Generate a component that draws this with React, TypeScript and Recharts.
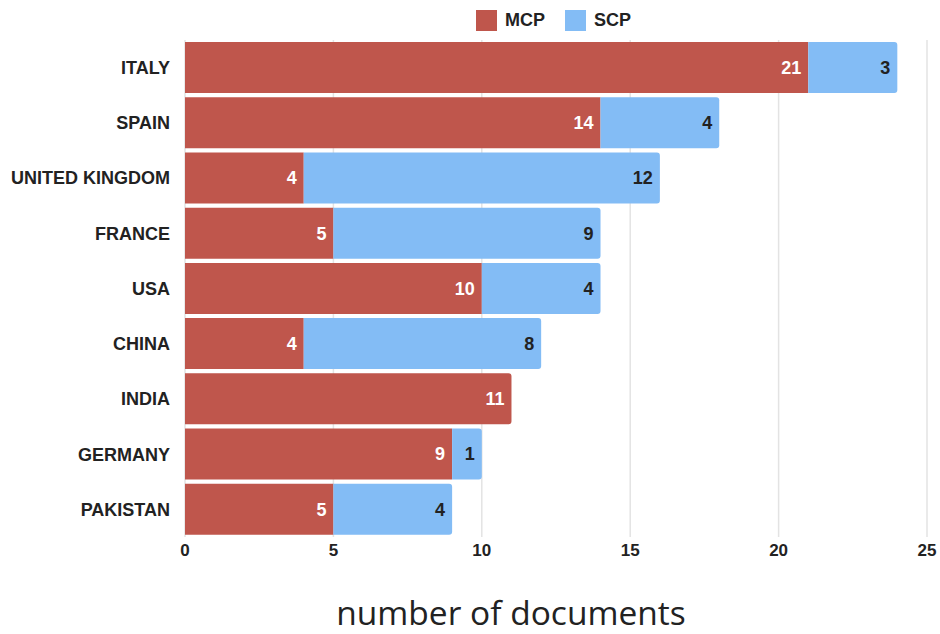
import React from 'react';
import {
  BarChart,
  Bar,
  XAxis,
  YAxis,
  CartesianGrid,
  Legend,
  LabelList,
  Label,
  Rectangle,
} from 'recharts';

const countries = [
  'ITALY',
  'SPAIN',
  'UNITED KINGDOM',
  'FRANCE',
  'USA',
  'CHINA',
  'INDIA',
  'GERMANY',
  'PAKISTAN',
];
const mcpCounts = [21, 14, 4, 5, 10, 4, 11, 9, 5];
const scpCounts = [3, 4, 12, 9, 4, 8, 0, 1, 4];
const xTicks = [0, 5, 10, 15, 20, 25];

const MCP_COLOR = '#BF564C';
const SCP_COLOR = '#83BCF5';
const FONT = '"Liberation Sans", Arial, sans-serif';

const data = countries.map((country, i) => ({
  country,
  MCP: mcpCounts[i],
  SCP: scpCounts[i],
}));

const hideZero = (v: any) => (v === 0 ? '' : v);

// MCP segment gets rounded right corners when nothing is stacked after it
const McpShape = (props: any) => {
  const last = props.payload && props.payload.SCP === 0;
  return <Rectangle {...props} radius={last ? [0, 3, 3, 0] : 0} />;
};

const LegendContent = () => (
  <div
    style={{
      display: 'flex',
      justifyContent: 'center',
      alignItems: 'center',
      fontFamily: FONT,
      fontWeight: 700,
      fontSize: 18,
      color: '#222',
      height: 36,
      boxSizing: 'border-box',
      paddingBottom: 4,
      paddingLeft: 200,
    }}
  >
    {[
      { name: 'MCP', color: MCP_COLOR },
      { name: 'SCP', color: SCP_COLOR },
    ].map((item) => (
      <div
        key={item.name}
        style={{ display: 'flex', alignItems: 'center', marginRight: 20 }}
      >
        <span
          style={{
            display: 'inline-block',
            width: 21,
            height: 21,
            background: item.color,
            marginRight: 8,
          }}
        />
        <span>{item.name}</span>
      </div>
    ))}
  </div>
);

export default function App() {
  return (
    <div style={{ position: 'absolute', left: 0, top: 0, background: '#fff' }}>
      <BarChart
        width={940}
        height={634}
        data={data}
        layout="vertical"
        margin={{ top: 4, right: 13, bottom: 0, left: 0 }}
        barCategoryGap={2}
      >
        <CartesianGrid horizontal={false} stroke="#e3e3e3" strokeWidth={1.5} />
        <XAxis
          type="number"
          domain={[0, 25]}
          ticks={xTicks}
          axisLine={false}
          tickLine={false}
          tickSize={0}
          tickMargin={7}
          height={97}
          tick={{ fill: '#222', fontFamily: FONT, fontWeight: 700, fontSize: 17 }}
        >
          <Label
            value="number of documents"
            position="insideBottom"
            offset={9}
            dx={-45}
            style={{
              fill: '#222',
              fontFamily: '"Open Sans", sans-serif',
              fontSize: 33.5,
            }}
          />
        </XAxis>
        <YAxis
          type="category"
          dataKey="country"
          width={185}
          axisLine={false}
          tickLine={false}
          tickSize={0}
          tickMargin={15}
          interval={0}
          tick={{ fill: '#222', fontFamily: FONT, fontWeight: 700, fontSize: 18 }}
        />
        <Legend verticalAlign="top" content={<LegendContent />} />
        <Bar
          dataKey="MCP"
          stackId="a"
          fill={MCP_COLOR}
          shape={McpShape}
          isAnimationActive={false}
        >
          <LabelList
            dataKey="MCP"
            position="insideRight"
            offset={7}
            formatter={hideZero}
            style={{ fill: '#fff', fontFamily: FONT, fontWeight: 700, fontSize: 18 }}
          />
        </Bar>
        <Bar
          dataKey="SCP"
          stackId="a"
          fill={SCP_COLOR}
          radius={[0, 3, 3, 0]}
          isAnimationActive={false}
        >
          <LabelList
            dataKey="SCP"
            position="insideRight"
            offset={7}
            formatter={hideZero}
            style={{ fill: '#222', fontFamily: FONT, fontWeight: 700, fontSize: 18 }}
          />
        </Bar>
      </BarChart>
    </div>
  );
}
